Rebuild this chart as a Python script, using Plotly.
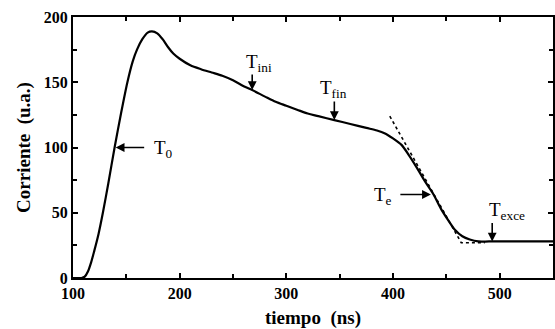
import plotly.graph_objects as go

# Data
tiempo = [100, 108, 111, 114, 117, 120, 124, 128, 133, 139, 145, 151, 156, 160, 165, 170, 174,
          179, 184, 189, 194, 200, 210, 220, 230, 240, 250, 260, 268, 280, 290, 300,
          310, 320, 330, 345, 360, 375, 385, 392, 400, 408, 415, 422, 430, 438, 445,
          452, 458, 465, 472, 480, 490, 520, 550]
corriente = [0, 0, 1, 5, 12, 21, 34, 50, 72, 100, 126, 150, 166, 175, 183, 188, 189,
             187.5, 183, 177, 172, 168, 163, 160, 157.5, 155, 151.5, 147, 144, 139, 135, 132,
             129, 126, 124, 121, 118, 115, 113, 111, 107, 102, 94, 85, 74, 64, 53,
             44, 37, 32, 29.5, 28, 28, 28, 28]

# Tangent (dotted) construction lines
tan_t = [397, 464, 486]
tan_y = [124, 27, 27]

x_ticks = [100, 200, 300, 400, 500]
y_ticks = [0, 50, 100, 150, 200]

FONT = "Liberation Serif"

fig = go.Figure()
fig.add_trace(go.Scatter(x=tan_t, y=tan_y, mode="lines",
                         line=dict(color="black", width=1.6, dash="dot"),
                         hoverinfo="skip", showlegend=False))
fig.add_trace(go.Scatter(x=tiempo, y=corriente, mode="lines",
                         line=dict(color="black", width=2.2, shape="spline", smoothing=0.8),
                         showlegend=False))

# Arrows (head at data point, tail offset in pixels)
arrows = [
    (140, 100, 30, 0),
    (268, 144, 0, -17),
    (345, 121, 0, -20),
    (435.5, 64, -32, 0),
    (493, 28, 0, -20),
]
for x, y, ax, ay in arrows:
    fig.add_annotation(x=x, y=y, ax=ax, ay=ay, text="", showarrow=True,
                       arrowhead=2, arrowsize=1.1, arrowwidth=1.6, arrowcolor="black")

labels = [
    (185, 99, "T<sub>0</sub>"),
    (274, 165, "T<sub>ini</sub>"),
    (344, 145, "T<sub>fin</sub>"),
    (391, 63, "T<sub>e</sub>"),
    (507, 51, "T<sub>exce</sub>"),
]
for x, y, txt in labels:
    fig.add_annotation(x=x, y=y, text=txt, showarrow=False,
                       font=dict(family=FONT, size=19, color="black"))

axis_common = dict(showline=True, linecolor="black", linewidth=2, mirror="ticks",
                   ticks="inside", ticklen=5, tickwidth=1.5, tickcolor="black",
                   showgrid=False, zeroline=False,
                   tickfont=dict(family=FONT, size=16, color="black", weight="bold"))

fig.update_xaxes(range=[100, 550], tickvals=x_ticks, ticktext=[str(v) for v in x_ticks],
                 minor=dict(dtick=50, tick0=100, ticks="inside", ticklen=4, tickcolor="black"),
                 title=dict(text="tiempo  (ns)", standoff=10,
                            font=dict(family=FONT, size=19, color="black", weight="bold")),
                 **axis_common)
fig.update_yaxes(range=[0, 200], tickvals=y_ticks, ticktext=[str(v) for v in y_ticks],
                 minor=dict(dtick=25, tick0=0, ticks="inside", ticklen=4, tickcolor="black"),
                 title=dict(text="Corriente  (u.a.)", standoff=8,
                            font=dict(family=FONT, size=19, color="black", weight="bold")),
                 **axis_common)

fig.update_layout(width=555, height=329, margin=dict(l=73, r=0, t=17, b=51),
                  paper_bgcolor="white", plot_bgcolor="white")

fig.write_html("out.html")
